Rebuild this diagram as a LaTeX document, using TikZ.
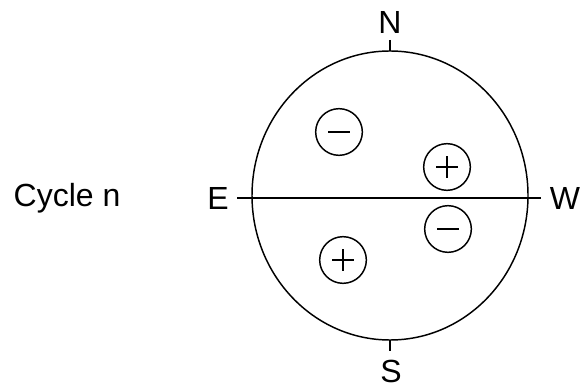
\documentclass[tikz,border=0pt]{standalone}
\usepackage{fontspec}
\setmainfont{Liberation Sans}
\begin{document}
\begin{tikzpicture}[x=0.75pt,y=-0.75pt,
  line width=1.1pt,
  lbl/.style={font=\fontsize{24}{26}\selectfont, inner sep=0pt},
  charge/.style={circle, draw, minimum size=35, inner sep=0pt}]
\useasboundingbox (0,0) rectangle (580,391);
% main circle
\draw (390,195.5) ellipse [x radius=138, y radius=144.5];
\coordinate (Et) at (237,198);
\coordinate (Wt) at (541,198);
\draw (Et) -- (Wt);
\coordinate (Nt) at (390,40);
\coordinate (Nb) at (390,51);
\coordinate (St) at (390,340);
\coordinate (Sb) at (390,351);
\draw (Nt) -- (Nb);
\draw (St) -- (Sb);
\node[lbl] (N) at (390,22) {N};
\node[lbl] (S) at (391,371) {S};
\node[lbl] (E) at (218,198) {E};
\node[lbl] (W) at (565,198) {W};
\node[lbl] (cyc) at (67,198) {Cycle n};
% charges
\node[charge] (m1) at (339,132) {};
\node[charge] (p1) at (447,167) {};
\node[charge] (m2) at (448,229) {};
\node[charge] (p2) at (343,260) {};
\draw ([xshift=-8]m1.center) -- ([xshift=8]m1.center);
\draw ([xshift=-8]m2.center) -- ([xshift=8]m2.center);
\draw ([xshift=-8]p1.center) -- ([xshift=8]p1.center);
\draw ([yshift=-8]p1.center) -- ([yshift=8]p1.center);
\draw ([xshift=-8]p2.center) -- ([xshift=8]p2.center);
\draw ([yshift=-8]p2.center) -- ([yshift=8]p2.center);
\end{tikzpicture}
\end{document}
